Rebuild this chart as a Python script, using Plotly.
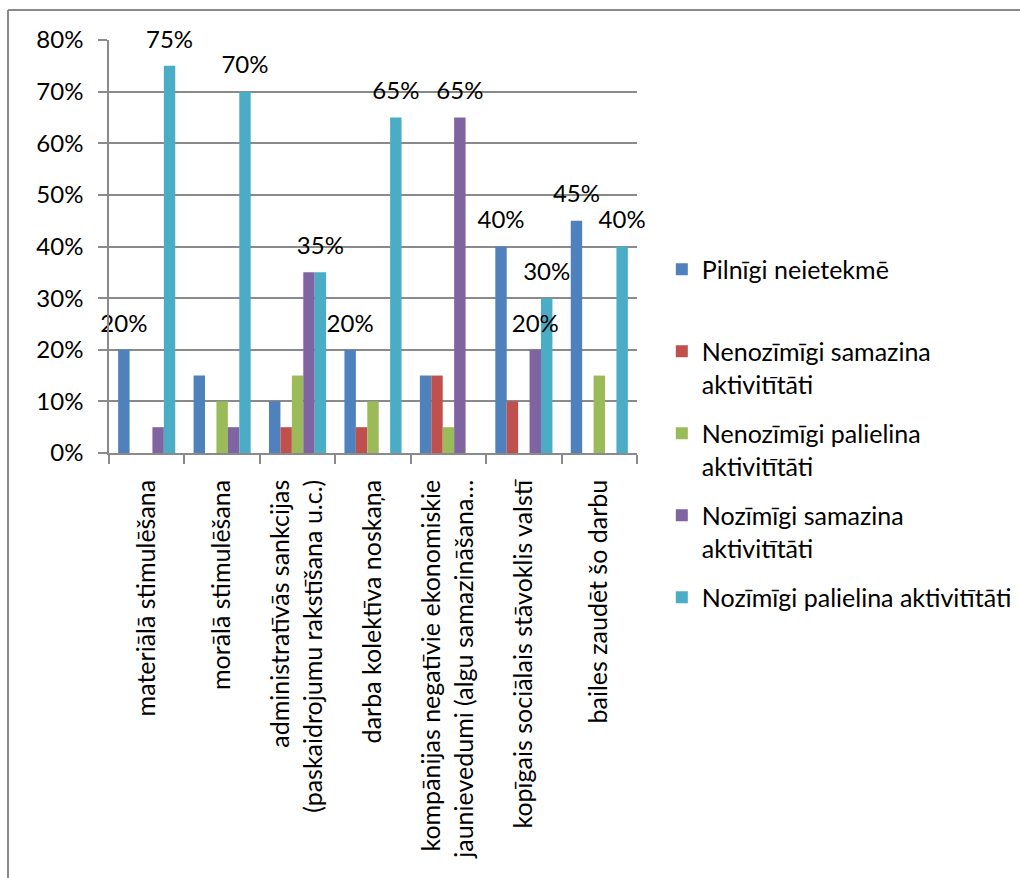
import plotly.graph_objects as go

# Categories (x axis)
categories = [
    "materiālā stimulēšana",
    "morālā stimulēšana",
    "administratīvās sankcijas<br>(paskaidrojumu rakstīšana u.c.)",
    "darba kolektīva noskaņa",
    "kompānijas negatīvie ekonomiskie<br>jaunievedumi (algu samazināšana…",
    "kopīgais sociālais stāvoklis valstī",
    "bailes zaudēt šo darbu",
]

# Series names as shown in the legend
series_names = [
    "Pilnīgi neietekmē<br>\u00a0",
    "Nenozīmīgi samazina<br>aktivitītāti",
    "Nenozīmīgi palielina<br>aktivitītāti",
    "Nozīmīgi samazina<br>aktivitītāti",
    "Nozīmīgi palielina aktivitītāti",
]

# Shares per category (fractions)
pilnigi_neietekme = [0.20, 0.15, 0.10, 0.20, 0.15, 0.40, 0.45]
nenozimigi_samazina = [0.00, 0.00, 0.05, 0.05, 0.15, 0.10, 0.00]
nenozimigi_palielina = [0.00, 0.10, 0.15, 0.10, 0.05, 0.00, 0.15]
nozimigi_samazina = [0.05, 0.05, 0.35, 0.00, 0.65, 0.20, 0.00]
nozimigi_palielina = [0.75, 0.70, 0.35, 0.65, 0.00, 0.30, 0.40]

# Which points carry a data label
labels_pilnigi_neietekme = [True, False, False, True, False, True, True]
labels_nenozimigi_samazina = [False] * 7
labels_nenozimigi_palielina = [False] * 7
labels_nozimigi_samazina = [False, False, False, False, True, True, False]
labels_nozimigi_palielina = [True, True, True, True, False, True, True]

colors = ["#4F81BD", "#C0504D", "#9BBB59", "#8064A2", "#4BACC6"]

values = [pilnigi_neietekme, nenozimigi_samazina, nenozimigi_palielina,
          nozimigi_samazina, nozimigi_palielina]
label_flags = [labels_pilnigi_neietekme, labels_nenozimigi_samazina,
               labels_nenozimigi_palielina, labels_nozimigi_samazina,
               labels_nozimigi_palielina]

FONT = "Lato"
FS_NUM = 24
FS_TXT = 25
GRID = "#8a8a8a"
GAP = 0.243

fig = go.Figure()
for i, (name, vals, col) in enumerate(zip(series_names, values, colors)):
    fig.add_trace(go.Bar(
        x=categories, y=vals, name=name, marker_color=col,
        marker_line_width=0, offsetgroup=str(i), legendgroup=str(i),
    ))

# Data labels, grouped alongside the bars; the transparent marker
# only sets the gap between the bar top and its label
for i, (vals, flags) in enumerate(zip(values, label_flags)):
    fig.add_trace(go.Scatter(
        x=categories, y=vals, mode="markers+text",
        marker=dict(size=18, opacity=0),
        text=[f"{v:.0%}" if f else "" for v, f in zip(vals, flags)],
        textposition="top center",
        textfont=dict(family=FONT, size=FS_NUM, color="#000000"),
        offsetgroup=str(i), showlegend=False, hoverinfo="skip",
        cliponaxis=False,
    ))

fig.update_layout(
    width=1020, height=878,
    margin=dict(l=109, r=383, t=40, b=425, autoexpand=False),
    paper_bgcolor="white", plot_bgcolor="white",
    barmode="group", bargap=GAP, bargroupgap=0,
    scattermode="group", scattergap=GAP,
    font=dict(family=FONT, size=FS_TXT, color="#000000"),
    legend=dict(
        x=1.047, xanchor="left", y=0.50, yanchor="top",
        valign="top", tracegroupgap=14,
        font=dict(family=FONT, size=FS_TXT, color="#000000"),
        bgcolor="rgba(0,0,0,0)",
    ),
    xaxis=dict(
        type="category", tickangle=-90, tickson="boundaries",
        ticks="outside", ticklen=9, tickcolor=GRID, tickwidth=1.5,
        showline=True, linecolor=GRID, linewidth=1.5,
        showgrid=False, tickfont=dict(family=FONT, size=FS_TXT),
        ticklabelstandoff=15,
    ),
    yaxis=dict(
        range=[0, 0.8], dtick=0.1, tickformat=".0%",
        ticks="outside", ticklen=9, tickcolor=GRID, tickwidth=1.5,
        showline=True, linecolor=GRID, linewidth=1.5,
        showgrid=True, gridcolor=GRID, gridwidth=1.5,
        zeroline=False, tickfont=dict(family=FONT, size=FS_NUM),
        ticklabelstandoff=10,
    ),
    shapes=[
        dict(type="line", xref="paper", yref="paper", x0=-0.1913, x1=2,
             y0=1.0726, y1=1.0726, line=dict(color=GRID, width=2)),
        dict(type="line", xref="paper", yref="paper", x0=-0.1913, x1=-0.1913,
             y0=1.0726, y1=-2, line=dict(color=GRID, width=2)),
    ],
)

fig.write_html("out.html")
